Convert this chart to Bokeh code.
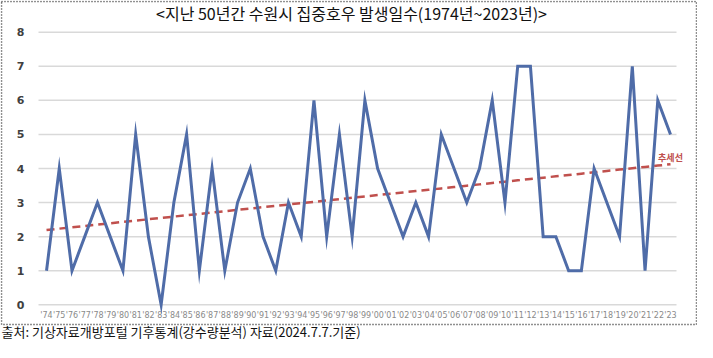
import numpy as np
from bokeh.plotting import figure
from bokeh.models import Range1d, Label
from bokeh.core.properties import value
from bokeh.embed import file_html
from bokeh.resources import INLINE

# ---- data ----
years = list(range(1974, 2024))
days = [1, 4, 1, 2, 3, 2, 1, 5, 2, 0,
        3, 5, 1, 4, 1, 3, 4, 2, 1, 3,
        2, 6, 2, 5, 2, 6, 4, 3, 2, 3,
        2, 5, 4, 3, 4, 6, 3, 7, 7, 2,
        2, 1, 1, 4, 3, 2, 7, 1, 6, 5]
year_labels = ["'%02d" % (y % 100) for y in years]
y_ticks = [0, 1, 2, 3, 4, 5, 6, 7, 8]
y_tick_labels = [str(t) for t in y_ticks]
title_text = "<지난 50년간 수원시 집중호우 발생일수(1974년~2023년)>"
caption_text = "출처: 기상자료개방포털 기후통계(강수량분석) 자료(2024.7.7.기준)"
trend_text = "추세선"

# ---- layout (pixels inside the 697x342 canvas) ----
W, H = 697, 342
PL, PR, PT, PB = 38, 676, 30, 306          # plot area edges
xa, xb = 1973.37, 2023.47                  # data at plot area left / right
ya, yb = -0.05, 8.05                       # data at plot area bottom / top
kx = (xb - xa) / (PR - PL)
ky = (yb - ya) / (PB - PT)


def X(px):
    return xa + (px - PL) * kx


def Y(py):
    return yb - (py - PT) * ky


p = figure(width=W, height=H, x_range=Range1d(X(0), X(W)), y_range=Range1d(Y(H), Y(0)),
           output_backend="svg", toolbar_location=None,
           x_axis_location=None, y_axis_location=None,
           min_border=0, min_border_left=0, min_border_right=0,
           min_border_top=0, min_border_bottom=0)
p.outline_line_color = None
p.grid.visible = False
p.background_fill_color = "white"
p.border_fill_color = "white"

# dotted frame around the chart area
p.quad(left=[X(1)], right=[X(696)], top=[Y(1)], bottom=[Y(324)],
       fill_color=None, line_color="#222222", line_width=1.5, line_dash="1 2")

# horizontal grid lines spanning the plot area
p.segment(x0=[xa] * len(y_ticks), x1=[xb] * len(y_ticks), y0=y_ticks, y1=y_ticks,
          line_color="#d9d9d9", line_width=1.5)

# y tick labels
p.text(x=[X(PL - 14)] * len(y_ticks), y=y_ticks, text=y_tick_labels,
       text_align="right", text_baseline="middle",
       text_font=value("DejaVu Sans"), text_font_style="bold",
       text_font_size="11px", text_color="#404040")

# x tick labels
p.text(x=years, y=[Y(PB + 9)] * len(years), text=year_labels,
       text_align="center", text_baseline="middle",
       text_font=value("DejaVu Sans"), text_font_size="8px", text_color="#8a8a8a")

# trend line (least squares fit of the series)
slope, intercept = np.polyfit(years, days, 1)
trend = [slope * y + intercept for y in years]
p.line(years, trend, line_color="#c0504d", line_width=2.5, line_dash="8 5")

# data line
p.line(years, days, line_color="#4f6ca8", line_width=3, line_join="miter")

# texts
p.add_layout(Label(x=X(351), y=Y(12), text=title_text, text_align="center",
                   text_baseline="middle", text_font="Noto Sans CJK KR",
                   text_font_size="16px", text_color="#111111"))
p.add_layout(Label(x=X(1), y=Y(331), text=caption_text, text_align="left",
                   text_baseline="middle", text_font="Noto Sans CJK KR",
                   text_font_size="13px", text_color="#111111"))
p.add_layout(Label(x=X(670), y=Y(157), text=trend_text, text_align="center",
                   text_baseline="middle", text_font="Noto Sans CJK KR",
                   text_font_style="bold", text_font_size="9px", text_color="#c0504d"))

open("out.html", "w").write(file_html(p, INLINE))
